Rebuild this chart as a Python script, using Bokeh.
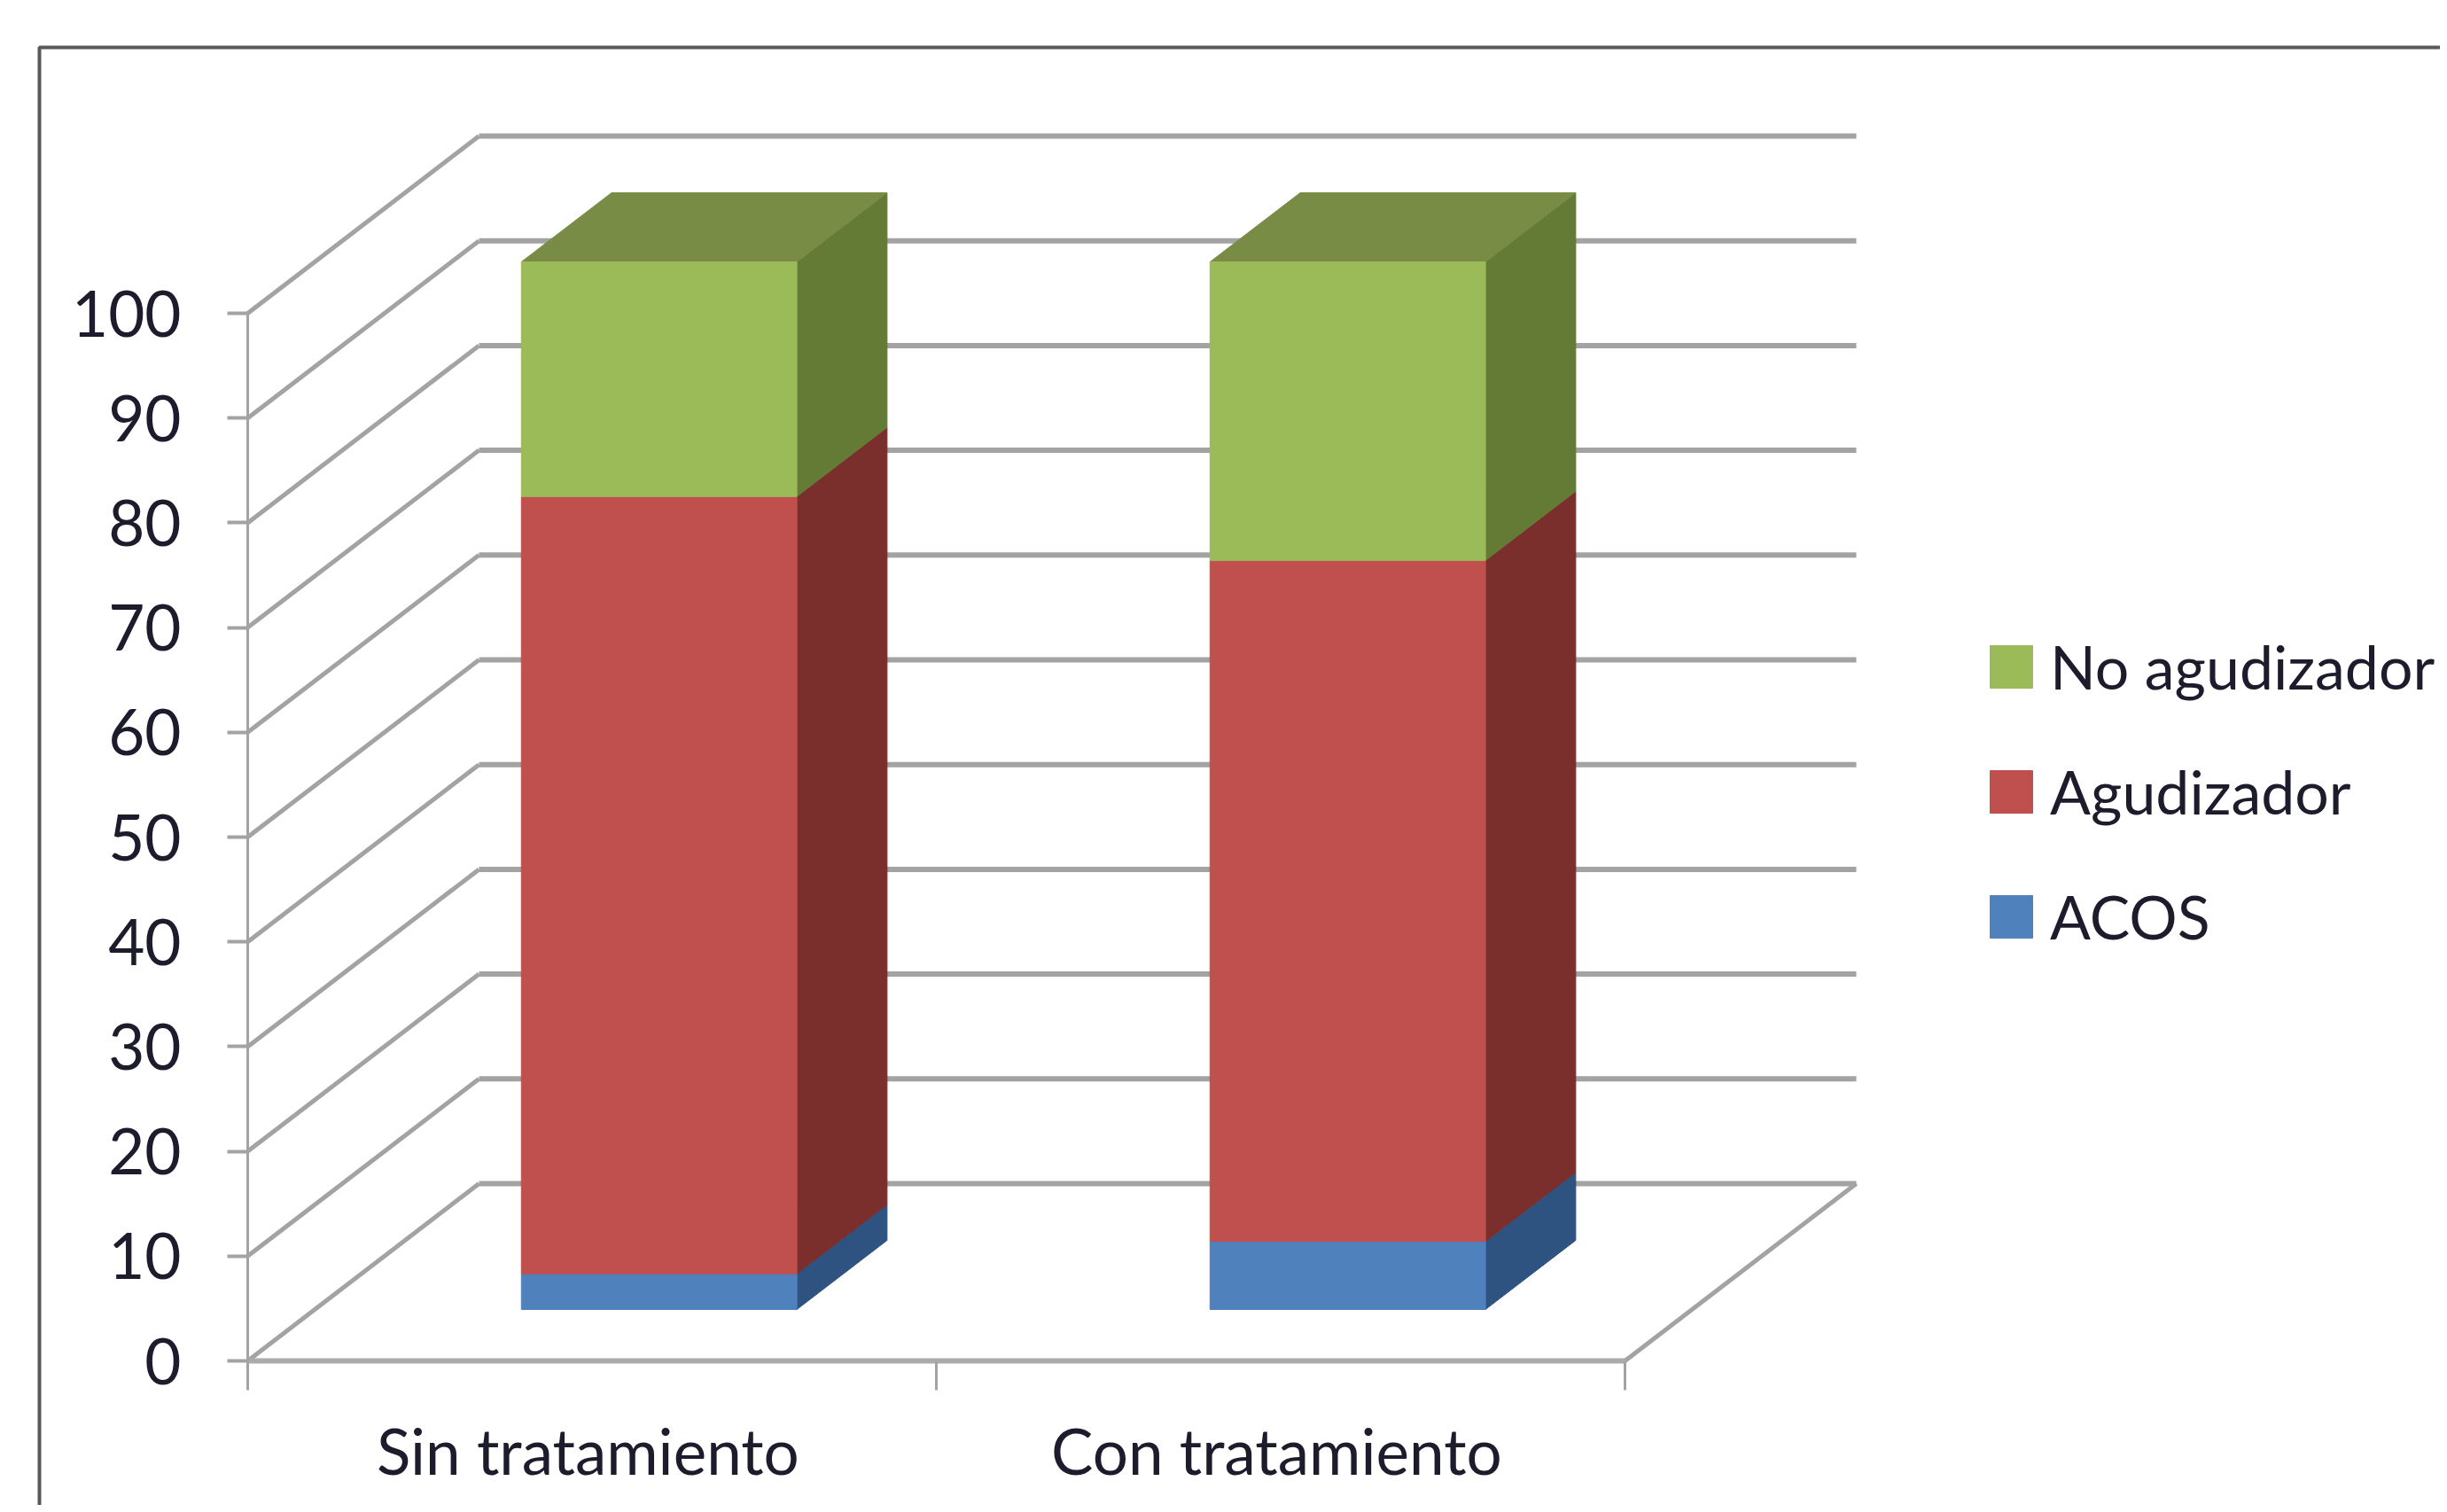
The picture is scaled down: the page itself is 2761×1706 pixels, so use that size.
from bokeh.plotting import figure
from bokeh.models import FixedTicker, LinearAxis, Legend, LegendItem, ColumnDataSource
from bokeh.embed import file_html
from bokeh.resources import INLINE

# ---- data ----
categories = ["Sin tratamiento", "Con tratamiento"]
acos = [3.4, 6.5]
agudizador = [74.2, 65.0]
no_agudizador = [22.4, 28.5]
y_ticks = [0, 10, 20, 30, 40, 50, 60, 70, 80, 90, 100]
series_names = ["ACOS", "Agudizador", "No agudizador"]
front_colors = ["#4F81BD", "#C0504D", "#9BBB59"]
side_colors = ["#2F5380", "#7A2F2D", "#647B35"]
top_color = "#788C45"

# ---- layout (picture pixel <-> data) ----
W, H = 2753, 1698
PX_X0, PX_PER_CAT = 279.0, 777.0
PX_Y0, PX_PER_VAL = 1535.0, 11.82
WALL_DX = 261.0 / PX_PER_CAT      # back wall offset, in category units
WALL_DY = 200.0 / PX_PER_VAL      # back wall offset, in value units
BAR_WIDTH = 0.40
D_FRONT, D_BACK = 0.29, 0.68      # bar depth positions between front (0) and back wall (1)
LABEL_SHIFT = -0.006              # category labels sit a hair left of the interval centre
GRID = "#A3A3A3"
FONT = "Lato"
TEXT = "#1c1c2c"


def proj(x, v, d):
    return x + d * WALL_DX, v + d * WALL_DY


def data_x(px):
    return (px - PX_X0) / PX_PER_CAT


def data_y(py):
    return (PX_Y0 - py) / PX_PER_VAL


p = figure(width=W, height=H, output_backend="svg", toolbar_location=None,
           x_range=(data_x(0), data_x(W)), y_range=(data_y(H), data_y(0)),
           x_axis_type=None, y_axis_type=None,
           min_border=0, min_border_left=0, min_border_right=0, min_border_top=0, min_border_bottom=0,
           outline_line_color=None, background_fill_color="white", border_fill_color="white")
p.grid.visible = False

# outer frame of the picture
p.line([data_x(44), data_x(44), data_x(W)], [data_y(H), data_y(53), data_y(53)],
       line_color="#595959", line_width=4)

# walls and floor
n_cats = len(categories)
for v in y_ticks:
    xa, ya = proj(0, v, 0)
    xb, yb = proj(0, v, 1)
    xc, yc = proj(n_cats, v, 1)
    p.line([xa, xb], [ya, yb], line_color=GRID, line_width=5)
    p.line([xb, xc], [yb, yc], line_color=GRID, line_width=6)
xa, ya = proj(n_cats, 0, 0)
xb, yb = proj(n_cats, 0, 1)
p.line([xa, xb], [ya, yb], line_color=GRID, line_width=5)

# 3D bars
stack = [acos, agudizador, no_agudizador]
bar_renderers = []
for c in range(n_cats):
    mid = c + 0.5
    left = mid - BAR_WIDTH / 2
    right = mid + BAR_WIDTH / 2
    base = 0.0
    for s, vals in enumerate(stack):
        top = base + vals[c]
        # side face
        sx = [proj(right, base, D_FRONT)[0], proj(right, base, D_BACK)[0],
              proj(right, top, D_BACK)[0], proj(right, top, D_FRONT)[0]]
        sy = [proj(right, base, D_FRONT)[1], proj(right, base, D_BACK)[1],
              proj(right, top, D_BACK)[1], proj(right, top, D_FRONT)[1]]
        p.patch(sx, sy, fill_color=side_colors[s], line_color=side_colors[s], line_width=1)
        base = top
    # top face
    tx = [proj(left, base, D_FRONT)[0], proj(left, base, D_BACK)[0],
          proj(right, base, D_BACK)[0], proj(right, base, D_FRONT)[0]]
    ty = [proj(left, base, D_FRONT)[1], proj(left, base, D_BACK)[1],
          proj(right, base, D_BACK)[1], proj(right, base, D_FRONT)[1]]
    p.patch(tx, ty, fill_color=top_color, line_color=top_color, line_width=1)

# front faces
bottoms = [0.0] * n_cats
front_x = [proj(c + 0.5, 0, D_FRONT)[0] for c in range(n_cats)]
lift = proj(0, 0, D_FRONT)[1]
for s, vals in enumerate(stack):
    tops = [b + v for b, v in zip(bottoms, vals)]
    src = ColumnDataSource(dict(x=front_x,
                                bottom=[b + lift for b in bottoms],
                                top=[t + lift for t in tops]))
    r = p.vbar(x="x", width=BAR_WIDTH, bottom="bottom", top="top", source=src,
               fill_color=front_colors[s], line_color=front_colors[s], line_width=1)
    bar_renderers.append(r)
    bottoms = tops

# axes
yaxis = LinearAxis(fixed_location=0, bounds=(0, 100),
                   ticker=FixedTicker(ticks=y_ticks),
                   axis_line_color=GRID, axis_line_width=3,
                   major_tick_line_color=GRID, major_tick_line_width=4,
                   major_tick_in=0, major_tick_out=23, minor_tick_line_color=None,
                   major_label_standoff=52, major_label_text_font=FONT,
                   major_label_text_font_size="71px", major_label_text_color=TEXT)
p.add_layout(yaxis, "left")

label_pos = [i + 0.5 + LABEL_SHIFT for i in range(n_cats)]
xaxis = LinearAxis(fixed_location=0, bounds=(0, n_cats),
                   ticker=FixedTicker(ticks=label_pos, minor_ticks=list(range(n_cats + 1))),
                   major_label_overrides={t: c for t, c in zip(label_pos, categories)},
                   axis_line_color="#ABABAB", axis_line_width=6,
                   major_tick_line_color=None, minor_tick_line_color=GRID,
                   minor_tick_line_width=3, minor_tick_in=0, minor_tick_out=33,
                   major_label_standoff=25, major_label_text_font=FONT,
                   major_label_text_font_size="71px", major_label_text_color=TEXT)
p.add_layout(xaxis, "below")

# legend
legend = Legend(items=[LegendItem(label=series_names[i], renderers=[bar_renderers[i]])
                       for i in [2, 1, 0]],
                location=(2239, H - 1074),
                orientation="vertical", padding=0, margin=0, spacing=60,
                glyph_width=60, glyph_height=60, label_standoff=14,
                label_text_font=FONT, label_text_font_size="68px",
                label_text_color=TEXT,
                background_fill_alpha=0, border_line_color=None)
p.add_layout(legend, "center")

open("out.html", "w").write(file_html(p, INLINE))
